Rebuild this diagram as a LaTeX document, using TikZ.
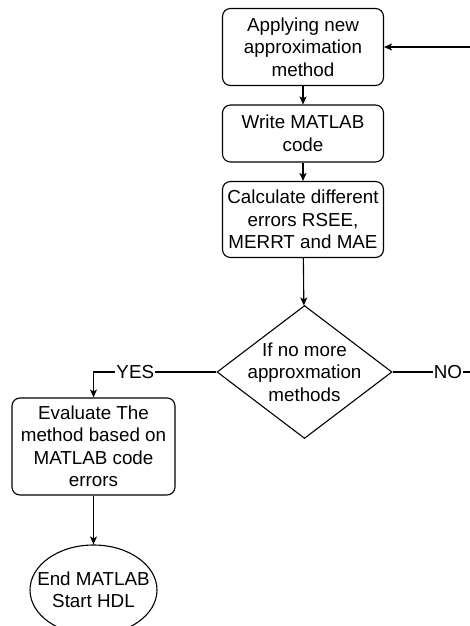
\documentclass[tikz,border=0pt]{standalone}
\usepackage{fontspec}
\setmainfont{Liberation Sans}
\usetikzlibrary{arrows.meta, positioning, shapes.geometric}

\tikzset{
  procbox/.style={draw, rounded corners=8pt, line width=1.1pt, align=center,
    minimum width=161pt, inner sep=0pt},
  decision/.style={draw, diamond, line width=1.1pt, inner sep=0pt,
    minimum width=175pt, minimum height=133pt},
  terminal/.style={draw, ellipse, line width=1.1pt, inner sep=0pt,
    minimum width=127pt, minimum height=90pt},
  flow/.style={line width=1.1pt, -{Stealth[length=8pt, width=7pt, inset=2pt]}},
  branch/.style={fill=white, inner sep=1pt}
}

\begin{document}
\begin{tikzpicture}[x=1pt, y=-1pt, font=\fontsize{18.8}{22.5}\selectfont]
  \useasboundingbox (0,0) rectangle (470,626);
  \clip (0,0) rectangle (470,626);
  % main column
  \node[procbox, minimum height=77pt] (apply) at (303,47) {Applying new\\approximation\\method};
  \node[procbox, minimum height=57pt] (code) at (303,133.5) {Write MATLAB\\code};
  \node[procbox, minimum height=76pt] (errs) at (303,219.5) {Calculate different\\errors RSEE,\\MERRT and MAE};
  \node[decision] (check) at (304.5,372) {};
  \node[align=center, inner sep=0pt] (checktxt) at (check.center) {If no more\\approxmation\\methods};
  % yes branch
  \node[procbox, minimum width=163pt, minimum height=97pt] (eval) at (93.5,446.5) {Evaluate The\\method based on\\MATLAB code\\errors};
  \node[terminal] (stop) at (93.5,590) {};
  \node[align=center, inner sep=0pt] (stoptxt) at (stop.center) {End MATLAB\\Start HDL};
  % loop back point, off to the right
  \coordinate (loop) at (482,372);

  \draw[flow] (apply) -- (code);
  \draw[flow] (code) -- (errs);
  \draw[flow] (errs) -- (check);
  \draw[flow] (check.west) -| node[branch, pos=0.33] {YES} (eval.north);
  \draw[flow] (eval) -- (stop);
  \draw[flow] (check.east) -- node[branch, pos=0.62] {NO} (loop) |- (apply.east);
\end{tikzpicture}
\end{document}
